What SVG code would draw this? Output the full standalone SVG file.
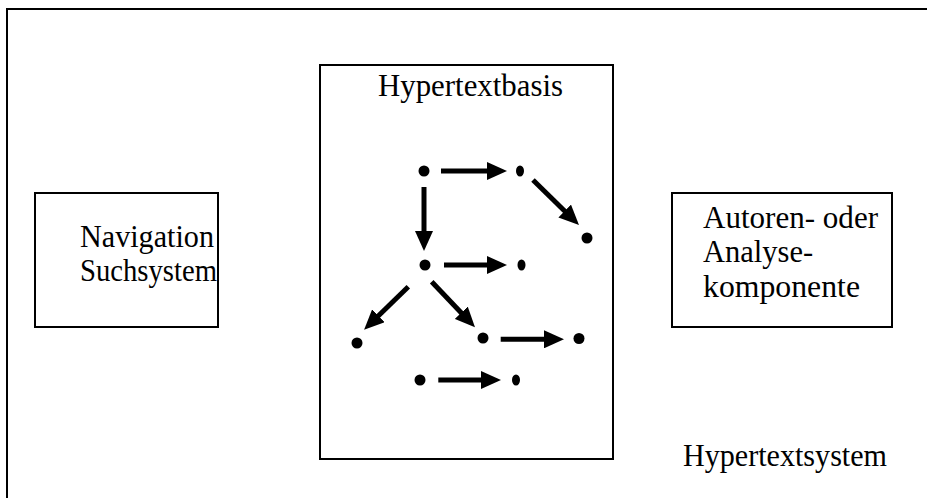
<svg xmlns="http://www.w3.org/2000/svg" width="927" height="498" viewBox="0 0 927 498">
<style>
.box{fill:none;stroke:#000;stroke-width:2}
.t{font-family:"Liberation Serif","Times New Roman",serif;font-size:30.5px;fill:#000}
.arr{stroke:#000;stroke-width:5;fill:none;marker-end:url(#ah)}
.dot{fill:#000}
</style>
<defs>
<marker id="ah" viewBox="0 0 20 18" refX="1" refY="9" markerWidth="20" markerHeight="18" markerUnits="userSpaceOnUse" orient="auto">
<path d="M0,0 L20,9 L0,18 z" fill="#000"/>
</marker>
</defs>
<rect width="927" height="498" fill="#fff"/>
<g id="hypertextsystem">
<rect class="box" x="7" y="9" width="940" height="510"/>
<text class="t" x="683" y="466" textLength="204" lengthAdjust="spacingAndGlyphs">Hypertextsystem</text>
</g>
<g id="navigation">
<rect class="box" x="35" y="193" width="183" height="134"/>
<text class="t" x="80" y="247" textLength="134" lengthAdjust="spacingAndGlyphs">Navigation</text>
<text class="t" x="80" y="281" textLength="137" lengthAdjust="spacingAndGlyphs">Suchsystem</text>
</g>
<g id="autoren">
<rect class="box" x="672" y="193" width="220" height="134"/>
<text class="t" x="703" y="228" textLength="175" lengthAdjust="spacingAndGlyphs">Autoren- oder</text>
<text class="t" x="703" y="262">Analyse-</text>
<text class="t" x="703" y="297" textLength="157" lengthAdjust="spacingAndGlyphs">komponente</text>
</g>
<g id="hypertextbasis">
<rect class="box" x="320" y="65" width="293" height="394"/>
<text class="t" x="378" y="96" textLength="185" lengthAdjust="spacingAndGlyphs">Hypertextbasis</text>
</g>
<g id="nodes">
<circle id="nA" class="dot" cx="424" cy="171" r="5.5"/>
<ellipse id="nB" class="dot" cx="520" cy="171" rx="4" ry="5.5"/>
<circle id="nC" class="dot" cx="587" cy="238" r="5.5"/>
<circle id="nD" class="dot" cx="425" cy="265" r="5.5"/>
<ellipse id="nE" class="dot" cx="521.5" cy="265" rx="4" ry="5.5"/>
<circle id="nF" class="dot" cx="357" cy="343" r="5.5"/>
<circle id="nG" class="dot" cx="483" cy="338" r="5.5"/>
<circle id="nH" class="dot" cx="579" cy="338.5" r="5.5"/>
<circle id="nI" class="dot" cx="420" cy="380" r="5.5"/>
<ellipse id="nJ" class="dot" cx="516" cy="380" rx="4" ry="5.5"/>
</g>
<g id="connectors">
<path class="arr" d="M441,171 L488,171"/>
<path class="arr" d="M533,180 L565.4,211.7"/>
<path class="arr" d="M424,187 L424,232"/>
<path class="arr" d="M444,265 L488,265"/>
<path class="arr" d="M408.3,286.7 L377.7,316.5"/>
<path class="arr" d="M431.7,281.7 L461.9,313.5"/>
<path class="arr" d="M500.7,339.3 L545,339.3"/>
<path class="arr" d="M438.3,380 L482,380"/>
</g>
</svg>
